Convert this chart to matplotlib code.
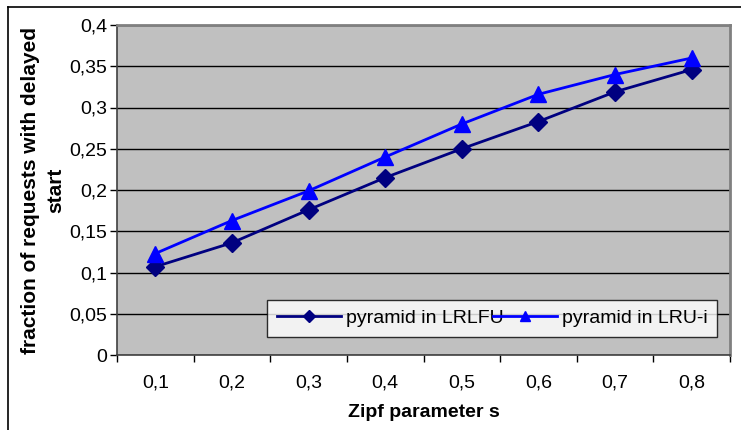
import matplotlib
matplotlib.use("Agg")
import matplotlib.pyplot as plt
from matplotlib.lines import Line2D

categories = ["0,1", "0,2", "0,3", "0,4", "0,5", "0,6", "0,7", "0,8"]
lrlfu = [0.107, 0.136, 0.176, 0.215, 0.250, 0.283, 0.319, 0.346]
lrui = [0.123, 0.163, 0.199, 0.240, 0.280, 0.316, 0.340, 0.360]
yticks = [0, 0.05, 0.1, 0.15, 0.2, 0.25, 0.3, 0.35, 0.4]
ytick_labels = ["0", "0,05", "0,1", "0,15", "0,2", "0,25", "0,3", "0,35", "0,4"]

plt.rcParams['font.family'] = ['Liberation Sans', 'DejaVu Sans']

W, H = 741, 430
fig = plt.figure(figsize=(W / 100, H / 100), dpi=100)
ax = fig.add_axes([117 / W, 1 - 355 / H, (730 - 117) / W, (355 - 25) / H])
ax.set_facecolor('#C0C0C0')

x = list(range(len(categories)))
ax.plot(x, lrlfu, color='#000080', lw=2, marker='D', ms=9, mfc='#000080', mec='#000080',
        label='pyramid in LRLFU', zorder=3, clip_on=False)
ax.plot(x, lrui, color='#0000FF', lw=2, marker='^', ms=12, mfc='#0000FF', mec='#0000FF',
        label='pyramid in LRU-i', zorder=3, clip_on=False)

ax.set_xlim(-0.5, len(categories) - 0.5)
ax.set_ylim(0, 0.4)
ax.set_yticks(yticks)
ax.set_yticklabels(ytick_labels, fontsize=14)
ax.set_xticks(x)
ax.set_xticklabels(categories, fontsize=14)
ax.set_xticks([i - 0.5 for i in range(len(categories) + 1)], minor=True)
ax.tick_params(axis='x', which='major', length=0, pad=14)
ax.tick_params(axis='x', which='minor', length=5, direction='out', width=1, color='black')
ax.tick_params(axis='y', length=5, direction='out', width=1, color='black', pad=2)

ax.grid(axis='y', color='black', lw=1, zorder=1)
ax.set_axisbelow(True)
for s in ['top', 'right']:
    ax.spines[s].set_color('#808080')
    ax.spines[s].set_linewidth(2)
for s in ['left', 'bottom']:
    ax.spines[s].set_color('#404040')
    ax.spines[s].set_linewidth(1.2)

ax.set_xlabel('Zipf parameter s', fontsize=14, fontweight='bold', labelpad=9)
ax.set_ylabel('fraction of requests with delayed\nstart', fontsize=15, fontweight='bold',
              linespacing=1.4, labelpad=3)

leg = ax.legend(loc='lower left', bbox_to_anchor=((267 - 117) / 613, (355 - 337) / 330,
                                                   (717 - 267) / 613, (337 - 286) / 330),
                mode='expand', ncol=2, fontsize=14, frameon=True, fancybox=False,
                handlelength=3.3, handletextpad=0.25, columnspacing=0.8, borderaxespad=0,
                borderpad=0.5, markerscale=0.65)
leg.get_frame().set_edgecolor('black')
leg.get_frame().set_linewidth(1)
leg.get_frame().set_facecolor('white')
leg.set_zorder(5)

# outer chart border (only top and left visible)
fig.add_artist(Line2D([8 / W, 8 / W], [0, 1 - 7 / H], color='black', lw=1.2, transform=fig.transFigure))
fig.add_artist(Line2D([8 / W, 1], [1 - 7 / H, 1 - 7 / H], color='black', lw=1.2, transform=fig.transFigure))

fig.savefig('out.png', dpi=100)
